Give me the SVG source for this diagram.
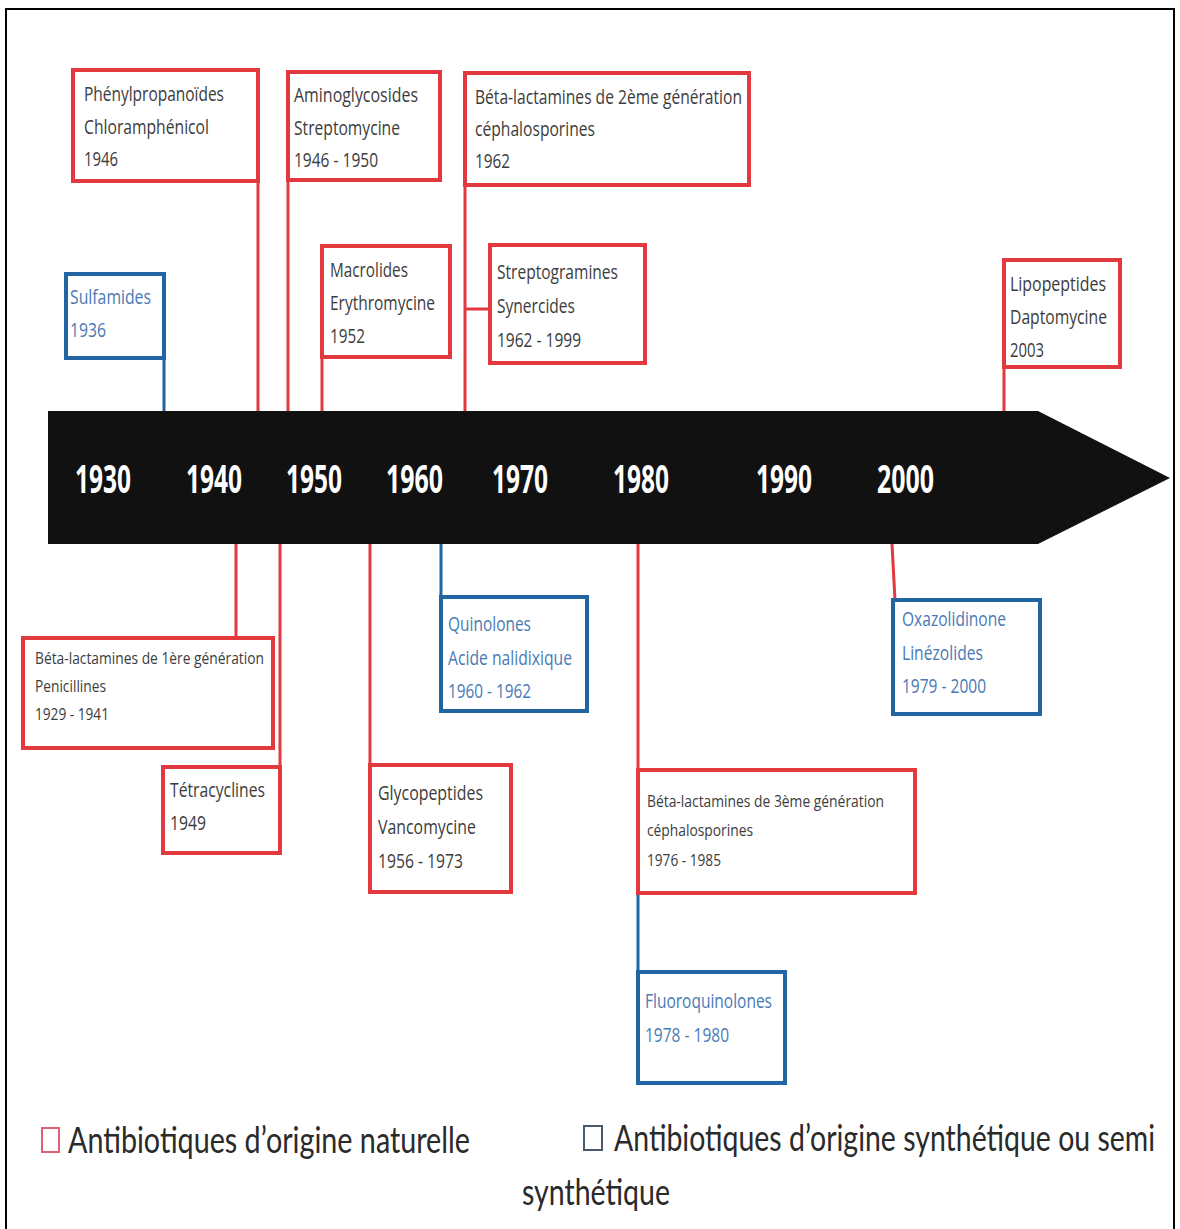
<svg xmlns="http://www.w3.org/2000/svg" width="1180" height="1229" viewBox="0 0 1180 1229">
<style>
.r{fill:#fff;stroke:#e2393f;stroke-width:4}
.b{fill:#fff;stroke:#2166a3;stroke-width:4}
.t{font-family:"Open Sans","Liberation Sans",sans-serif;font-size:20px;fill:#3c3c3c}
.tb{font-family:"Open Sans","Liberation Sans",sans-serif;font-size:20px;fill:#4a7ab5}
.ts{font-size:17px}
.yr{font-family:"Open Sans","Liberation Sans",sans-serif;font-size:40px;font-weight:bold;fill:#fff}
.lg{font-family:"Lato","Liberation Sans",sans-serif;font-size:37px;fill:#2a2a2a}
.cr{fill:none;stroke:#e2393f;stroke-width:3}
.cb{fill:none;stroke:#2166a3;stroke-width:3}
</style>
<rect x="0" y="0" width="1180" height="1229" fill="#fff"/>
<rect x="6" y="9" width="1168" height="1240" fill="none" stroke="#000" stroke-width="2"/>

<g id="connectors">
<path class="cb" d="M164 358V412"/>
<path class="cr" d="M258 181V412"/>
<path class="cr" d="M288 180V412"/>
<path class="cr" d="M322 357V412"/>
<path class="cr" d="M465 185V412M465 309H490"/>
<path class="cr" d="M1004 367V412"/>
<path class="cr" d="M236 544V638"/>
<path class="cr" d="M280 544V767"/>
<path class="cr" d="M370 544V765"/>
<path class="cb" d="M441 544V597"/>
<path class="cr" d="M638 544V770"/>
<path class="cb" d="M638 893V972"/>
<path class="cr" d="M892 544L895 600"/>
</g>

<g id="timeline">
<polygon points="48,411 1038,411 1170,478 1038,544 48,544" fill="#111"/>
<text class="yr" x="75" y="493" textLength="56" lengthAdjust="spacingAndGlyphs">1930</text>
<text class="yr" x="186" y="493" textLength="56" lengthAdjust="spacingAndGlyphs">1940</text>
<text class="yr" x="286" y="493" textLength="56" lengthAdjust="spacingAndGlyphs">1950</text>
<text class="yr" x="386" y="493" textLength="57" lengthAdjust="spacingAndGlyphs">1960</text>
<text class="yr" x="492" y="493" textLength="56" lengthAdjust="spacingAndGlyphs">1970</text>
<text class="yr" x="613" y="493" textLength="56" lengthAdjust="spacingAndGlyphs">1980</text>
<text class="yr" x="756" y="493" textLength="56" lengthAdjust="spacingAndGlyphs">1990</text>
<text class="yr" x="877" y="493" textLength="57" lengthAdjust="spacingAndGlyphs">2000</text>
</g>

<g id="phenylpropanoides">
<rect class="r" x="73" y="70" width="185" height="111"/>
<text class="t" x="84" y="101" textLength="140" lengthAdjust="spacingAndGlyphs">Phénylpropanoïdes</text>
<text class="t" x="84" y="134" textLength="125" lengthAdjust="spacingAndGlyphs">Chloramphénicol</text>
<text class="t" x="84" y="166" textLength="34" lengthAdjust="spacingAndGlyphs">1946</text>
</g>

<g id="aminoglycosides">
<rect class="r" x="288" y="72" width="152" height="108"/>
<text class="t" x="294" y="102" textLength="124" lengthAdjust="spacingAndGlyphs">Aminoglycosides</text>
<text class="t" x="294" y="135" textLength="106" lengthAdjust="spacingAndGlyphs">Streptomycine</text>
<text class="t" x="294" y="167" textLength="84" lengthAdjust="spacingAndGlyphs">1946 - 1950</text>
</g>

<g id="betalactamines2">
<rect class="r" x="465" y="73" width="284" height="112"/>
<text class="t" x="475" y="104" textLength="267" lengthAdjust="spacingAndGlyphs">Béta-lactamines de 2ème génération</text>
<text class="t" x="475" y="136" textLength="120" lengthAdjust="spacingAndGlyphs">céphalosporines</text>
<text class="t" x="475" y="168" textLength="35" lengthAdjust="spacingAndGlyphs">1962</text>
</g>

<g id="sulfamides">
<rect class="b" x="66" y="274" width="98" height="84"/>
<text class="tb" x="70" y="304" textLength="81" lengthAdjust="spacingAndGlyphs">Sulfamides</text>
<text class="tb" x="70" y="337" textLength="36" lengthAdjust="spacingAndGlyphs">1936</text>
</g>

<g id="macrolides">
<rect class="r" x="322" y="246" width="128" height="111"/>
<text class="t" x="330" y="277" textLength="78" lengthAdjust="spacingAndGlyphs">Macrolides</text>
<text class="t" x="330" y="310" textLength="105" lengthAdjust="spacingAndGlyphs">Erythromycine</text>
<text class="t" x="330" y="343" textLength="35" lengthAdjust="spacingAndGlyphs">1952</text>
</g>

<g id="streptogramines">
<rect class="r" x="490" y="245" width="155" height="118"/>
<text class="t" x="497" y="279" textLength="121" lengthAdjust="spacingAndGlyphs">Streptogramines</text>
<text class="t" x="497" y="313" textLength="78" lengthAdjust="spacingAndGlyphs">Synercides</text>
<text class="t" x="497" y="347" textLength="84" lengthAdjust="spacingAndGlyphs">1962 - 1999</text>
</g>

<g id="lipopeptides">
<rect class="r" x="1004" y="260" width="116" height="107"/>
<text class="t" x="1010" y="291" textLength="96" lengthAdjust="spacingAndGlyphs">Lipopeptides</text>
<text class="t" x="1010" y="324" textLength="97" lengthAdjust="spacingAndGlyphs">Daptomycine</text>
<text class="t" x="1010" y="357" textLength="34" lengthAdjust="spacingAndGlyphs">2003</text>
</g>

<g id="betalactamines1">
<rect class="r" x="23" y="638" width="250" height="110"/>
<text class="t ts" x="35" y="664" textLength="229" lengthAdjust="spacingAndGlyphs">Béta-lactamines de 1ère génération</text>
<text class="t ts" x="35" y="692" textLength="71" lengthAdjust="spacingAndGlyphs">Penicillines</text>
<text class="t ts" x="35" y="720" textLength="74" lengthAdjust="spacingAndGlyphs">1929 - 1941</text>
</g>

<g id="tetracyclines">
<rect class="r" x="163" y="767" width="117" height="86"/>
<text class="t" x="170" y="797" textLength="95" lengthAdjust="spacingAndGlyphs">Tétracyclines</text>
<text class="t" x="170" y="830" textLength="36" lengthAdjust="spacingAndGlyphs">1949</text>
</g>

<g id="quinolones">
<rect class="b" x="441" y="597" width="146" height="114"/>
<text class="tb" x="448" y="631" textLength="83" lengthAdjust="spacingAndGlyphs">Quinolones</text>
<text class="tb" x="448" y="665" textLength="124" lengthAdjust="spacingAndGlyphs">Acide nalidixique</text>
<text class="tb" x="448" y="698" textLength="83" lengthAdjust="spacingAndGlyphs">1960 - 1962</text>
</g>

<g id="glycopeptides">
<rect class="r" x="370" y="765" width="141" height="127"/>
<text class="t" x="378" y="800" textLength="105" lengthAdjust="spacingAndGlyphs">Glycopeptides</text>
<text class="t" x="378" y="834" textLength="98" lengthAdjust="spacingAndGlyphs">Vancomycine</text>
<text class="t" x="378" y="868" textLength="85" lengthAdjust="spacingAndGlyphs">1956 - 1973</text>
</g>

<g id="oxazolidinone">
<rect class="b" x="893" y="600" width="147" height="114"/>
<text class="tb" x="902" y="626" textLength="104" lengthAdjust="spacingAndGlyphs">Oxazolidinone</text>
<text class="tb" x="902" y="660" textLength="81" lengthAdjust="spacingAndGlyphs">Linézolides</text>
<text class="tb" x="902" y="693" textLength="84" lengthAdjust="spacingAndGlyphs">1979 - 2000</text>
</g>

<g id="betalactamines3">
<rect class="r" x="638" y="770" width="277" height="123"/>
<text class="t ts" x="647" y="807" textLength="237" lengthAdjust="spacingAndGlyphs">Béta-lactamines de 3ème génération</text>
<text class="t ts" x="647" y="836" textLength="106" lengthAdjust="spacingAndGlyphs">céphalosporines</text>
<text class="t ts" x="647" y="866" textLength="74" lengthAdjust="spacingAndGlyphs">1976 - 1985</text>
</g>

<g id="fluoroquinolones">
<rect class="b" x="638" y="972" width="147" height="111"/>
<text class="tb" x="645" y="1008" textLength="127" lengthAdjust="spacingAndGlyphs">Fluoroquinolones</text>
<text class="tb" x="645" y="1042" textLength="84" lengthAdjust="spacingAndGlyphs">1978 - 1980</text>
</g>

<g id="legend">
<rect x="42" y="1128" width="17" height="24" fill="none" stroke="#e06070" stroke-width="2"/>
<text class="lg" x="68" y="1153" textLength="402" lengthAdjust="spacingAndGlyphs">Antibiotiques d’origine naturelle</text>
<rect x="584" y="1126" width="18" height="24" fill="none" stroke="#4a5870" stroke-width="2"/>
<text class="lg" x="614" y="1151" textLength="541" lengthAdjust="spacingAndGlyphs">Antibiotiques d’origine synthétique ou semi</text>
<text class="lg" x="522" y="1205" textLength="148" lengthAdjust="spacingAndGlyphs">synthétique</text>
</g>
</svg>
